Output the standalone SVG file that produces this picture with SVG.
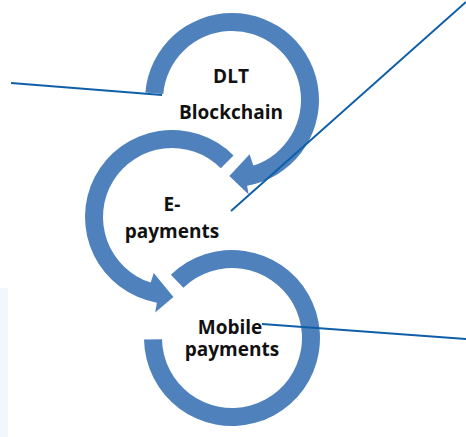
<svg xmlns="http://www.w3.org/2000/svg" width="466" height="437" viewBox="0 0 466 437">
<style>
.ring{fill:#4f81bd;stroke:none}
.lbl{font-family:"Open Sans","Liberation Sans",sans-serif;font-weight:bold;font-size:19px;fill:#111;text-anchor:middle}
.conn{stroke:#0f5fa8;stroke-width:2;fill:none}
</style>
<rect x="0" y="288" width="8" height="149" fill="#f2f7fd"/>
<g id="node-dlt">
<path class="ring" d="M145.33,92.41 A87,87 0 1 1 247.11,185.68 L248.67,194.54 L229.35,175.95 L249.61,154.21 L253.32,165.62 A69,69 0 1 0 163.26,93.99 Z"/>
<text class="lbl" x="231" y="83">DLT</text>
<text class="lbl" x="231" y="119">Blockchain</text>
</g>
<g id="node-epayments">
<path class="ring" d="M233.52,155.48 A87,87 0 1 0 156.89,302.68 L155.16,312.53 L173.40,296.99 L153.77,273.11 L150.68,282.62 A69,69 0 1 1 220.79,168.21 Z"/>
<text class="lbl" x="172" y="211">E-</text>
<text class="lbl" x="172" y="238">payments</text>
</g>
<g id="node-mobile">
<path class="ring" d="M170.87,274.70 A88,88 0 1 1 144.01,339.54 L162.01,339.22 A70,70 0 1 0 183.37,287.65 Z"/>
<text class="lbl" x="230" y="334">Mobile</text>
<text class="lbl" x="232" y="356">payments</text>
</g>
<g id="connectors">
<line class="conn" x1="11" y1="83" x2="162" y2="95"/>
<line class="conn" x1="466" y1="2" x2="231" y2="211"/>
<line class="conn" x1="262" y1="324" x2="466" y2="339"/>
</g>
</svg>
